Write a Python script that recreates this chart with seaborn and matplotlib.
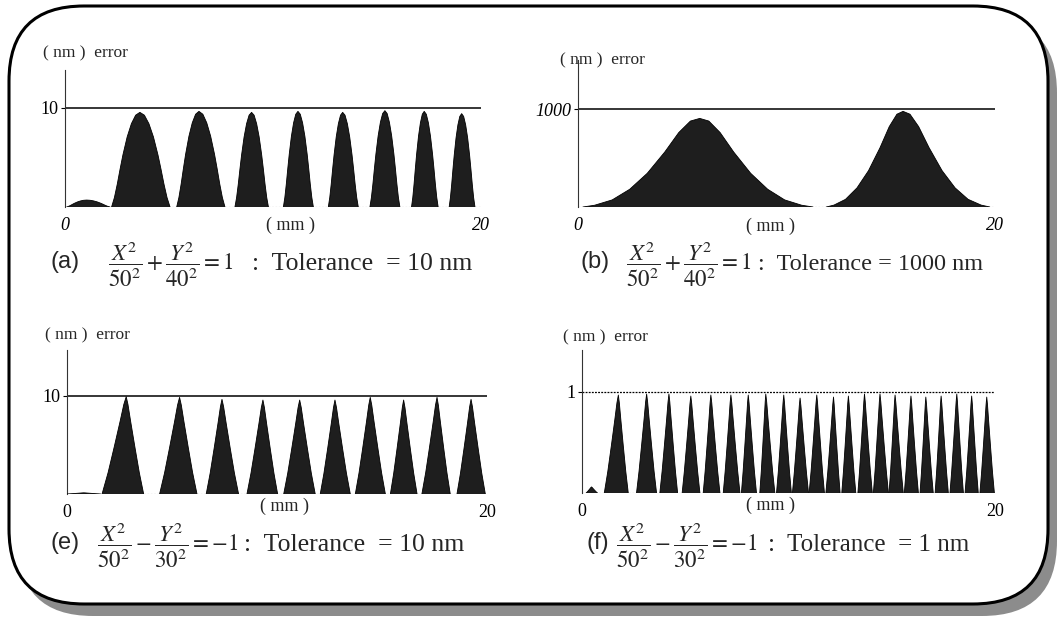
import matplotlib
matplotlib.use("Agg")
import matplotlib.pyplot as plt
import seaborn as sns
from matplotlib.patches import FancyBboxPatch

sns.set_theme(style="white")
plt.rcParams["font.family"] = ["Liberation Serif", "DejaVu Serif"]
plt.rcParams["mathtext.fontset"] = "stix"

# ---------------- data ----------------
# each hump: left foot, peak position, right foot, peak height
a_left = [0.08, 2.24, 5.37, 8.17, 10.50, 12.66, 14.66, 16.66, 18.47]
a_peak = [1.04, 3.60, 6.44, 8.97, 11.20, 13.35, 15.38, 17.27, 19.07]
a_right = [2.16, 5.05, 7.69, 9.78, 11.94, 14.10, 16.10, 17.94, 19.71]
a_height = [0.70, 9.56, 9.66, 9.56, 9.66, 9.56, 9.73, 9.66, 9.43]

b_left = [0.24, 11.91]
b_peak = [5.84, 15.59]
b_right = [11.27, 19.75]
b_height = [904, 976]

e_left = [0.00, 1.67, 4.41, 6.63, 8.57, 10.32, 12.06, 13.73, 15.40, 16.90, 18.57]
e_peak = [0.80, 2.82, 5.36, 7.38, 9.33, 11.08, 12.76, 14.44, 16.03, 17.62, 19.24]
e_right = [1.60, 3.65, 6.19, 8.17, 10.03, 11.82, 13.49, 15.16, 16.67, 18.25, 19.92]
e_height = [0.12, 9.93, 9.86, 9.66, 9.59, 9.59, 9.59, 9.86, 9.59, 9.86, 9.66]

f_left = [0.20, 1.08, 2.64, 3.77, 4.85, 5.87, 6.84, 7.72, 8.61, 9.42, 10.19, 11.00,
          11.81, 12.58, 13.36, 14.11, 14.87, 15.61, 16.37, 17.10, 17.82, 18.55, 19.27]
f_peak = [0.46, 1.76, 3.13, 4.21, 5.27, 6.24, 7.21, 8.05, 8.90, 9.77, 10.56, 11.37,
          12.18, 12.90, 13.68, 14.43, 15.16, 15.93, 16.65, 17.39, 18.15, 18.87, 19.60]
f_right = [0.75, 2.24, 3.61, 4.63, 5.71, 6.68, 7.65, 8.45, 9.34, 10.14, 10.97, 11.74,
           12.50, 13.26, 14.06, 14.84, 15.56, 16.29, 17.01, 17.74, 18.47, 19.19, 19.97]
f_height = [0.06, 0.97, 0.98, 0.98, 0.96, 0.97, 0.97, 0.97, 0.98, 0.97, 0.94, 0.97,
            0.95, 0.96, 0.98, 0.98, 0.97, 0.96, 0.95, 0.96, 0.98, 0.96, 0.95]

# hump outline profiles (fraction of half-width from foot, fraction of height)
bell_t = [0, 0.10, 0.20, 0.30, 0.40, 0.55, 0.70, 0.85, 1.0]
bell_v = [0, 0.10, 0.24, 0.40, 0.55, 0.74, 0.88, 0.97, 1.0]
wide_t = [0, 0.10, 0.25, 0.40, 0.55, 0.70, 0.82, 0.92, 1.0]
wide_v = [0, 0.02, 0.08, 0.20, 0.38, 0.62, 0.84, 0.97, 1.0]
spike_t = [0, 0.25, 0.50, 0.75, 0.90, 1.0]
spike_v = [0, 0.22, 0.48, 0.75, 0.92, 1.0]

tolerances = [10, 1000, 10, 1]
tol_labels = ["10", "1000", "10", "1"]
panel_letters = ["(a)", "(b)", "(e)", "(f)"]
equations = [r"$\dfrac{X^2}{50^2}+\dfrac{Y^2}{40^2}=1$",
             r"$\dfrac{X^2}{50^2}+\dfrac{Y^2}{40^2}=1$",
             r"$\dfrac{X^2}{50^2}-\dfrac{Y^2}{30^2}={-}1$",
             r"$\dfrac{X^2}{50^2}-\dfrac{Y^2}{30^2}={-}1$"]
tol_texts = [":  Tolerance  = 10 nm", ":  Tolerance = 1000 nm",
             ":  Tolerance  = 10 nm", ":  Tolerance  = 1 nm"]
tol_sizes = [18.5, 17.5, 18.5, 18]

# ---------------- layout (pixels) ----------------
W, H = 1057, 623
fig = plt.figure(figsize=(W / 100, H / 100), dpi=100)
fig.patch.set_facecolor("white")

ov = fig.add_axes([0, 0, 1, 1])
ov.set_xlim(0, W)
ov.set_ylim(H, 0)
ov.axis("off")
ov.set_zorder(0)

shadow = FancyBboxPatch((18, 18), 1039, 598, boxstyle="round,pad=0,rounding_size=75",
                        facecolor="#8c8c8c", edgecolor="none", hatch="....", zorder=1)
ov.add_patch(shadow)
box = FancyBboxPatch((9, 6), 1039, 598, boxstyle="round,pad=0,rounding_size=75",
                     facecolor="white", edgecolor="black", linewidth=2.2, zorder=2)
ov.add_patch(box)

# panel geometry: left, right, baseline, top (pixels)
geom = [(65, 481, 207, 70), (578, 995, 207, 60), (67, 487, 494, 350), (582, 995, 493, 350)]
tol_px = [108, 109, 396, 392]
humps = [(a_left, a_peak, a_right, a_height, bell_t, bell_v),
         (b_left, b_peak, b_right, b_height, wide_t, wide_v),
         (e_left, e_peak, e_right, e_height, spike_t, spike_v),
         (f_left, f_peak, f_right, f_height, spike_t, spike_v)]
italic_ticks = [False, True, False, False]
italic_x = [True, True, False, False]
mm_pos = [(290, 225), (770, 226), (285, 506), (770, 505)]
nm_pos = [(43, 53), (560, 60), (45, 335), (563, 337)]
cap_y = [270, 270, 551, 551]
cap_x = [(50, 108, 252), (580, 626, 758), (50, 97, 244), (586, 616, 768)]

for i in range(4):
    l, r, base, top = geom[i]
    ax = fig.add_axes([l / W, 1 - base / H, (r - l) / W, (base - top) / H])
    ax.set_zorder(3)
    ax.patch.set_alpha(0)
    tol = tolerances[i]
    ymax = tol * (base - top) / (base - tol_px[i])
    lefts, peaks, rights, heights, pt, pv = humps[i]
    for L, P, R, Hh in zip(lefts, peaks, rights, heights):
        xs = [L + t * (P - L) for t in pt] + [R - t * (R - P) for t in reversed(pt)]
        ys = [v * Hh for v in pv] + [v * Hh for v in reversed(pv)]
        ax.fill(xs, ys, color="#1e1e1e", linewidth=0, zorder=2)
        sns.lineplot(x=xs, y=ys, sort=False, estimator=None, color="black",
                     linewidth=0.6, ax=ax, zorder=3)
    ax.axhline(0, color="#555555", linewidth=0.8, linestyle=(0, (1.5, 1.5)), zorder=1)
    if i == 3:
        ax.axhline(tol, color="black", linewidth=0.9, linestyle=(0, (1.5, 1.0)), zorder=1)
    else:
        ax.axhline(tol, color="black", linewidth=1.1, zorder=1)
    ax.set_xlim(0, 20)
    ax.set_ylim(0, ymax)
    for s in ["top", "right", "bottom"]:
        ax.spines[s].set_visible(False)
    ax.spines["left"].set_color("#333333")
    ax.spines["left"].set_linewidth(0.8)
    ax.set_yticks([tol])
    ax.set_yticklabels([tol_labels[i]], fontsize=13,
                       fontstyle="italic" if italic_ticks[i] else "normal")
    ax.tick_params(axis="y", left=True, length=3, width=0.8, pad=2, colors="black")
    ax.set_xticks([0, 20])
    ax.set_xticklabels(["0", "20"], fontsize=13,
                       fontstyle="italic" if italic_x[i] else "normal")
    ax.tick_params(axis="x", bottom=True, length=0, pad=7, colors="black")
    ax.set_xlabel("")
    ax.set_ylabel("")

    ov.text(mm_pos[i][0], mm_pos[i][1], "( mm )", fontsize=13, ha="center", va="center")
    ov.text(nm_pos[i][0], nm_pos[i][1], "( nm )  error", fontsize=12.5, ha="left", va="center")
    x1, x2, x3 = cap_x[i]
    ov.text(x1, cap_y[i] - 2, panel_letters[i], fontsize=17, family=["Liberation Sans", "DejaVu Sans"],
            ha="left", va="baseline")
    ov.text(x2, cap_y[i], equations[i], fontsize=16.5, ha="left", va="baseline")
    ov.text(x3, cap_y[i], tol_texts[i], fontsize=tol_sizes[i], ha="left", va="baseline")

fig.savefig("out.png", dpi=100, facecolor="white")
